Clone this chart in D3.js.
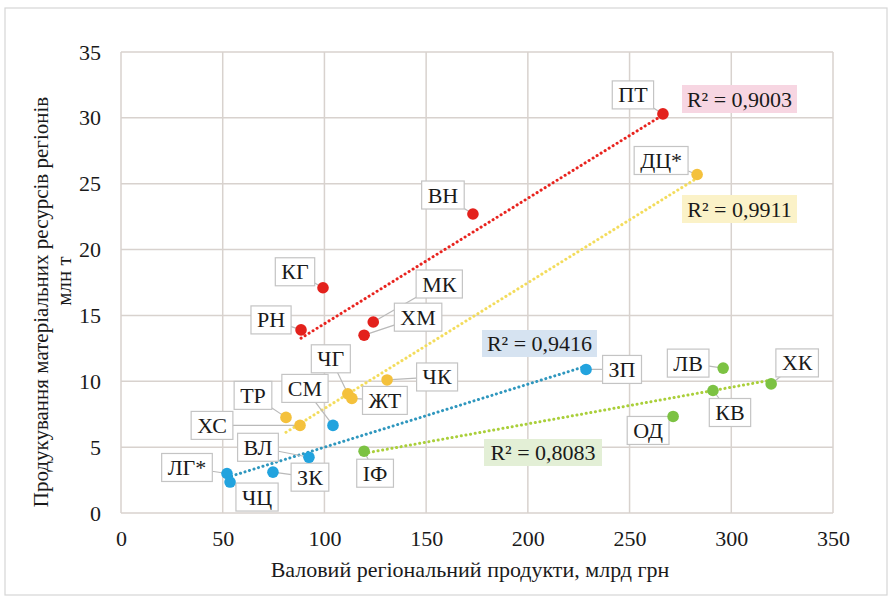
<!DOCTYPE html>
<html>
<head>
<meta charset="utf-8">
<script src="https://cdn.jsdelivr.net/npm/d3@7"></script>
<style>
  body { margin: 0; background: #fff; }
</style>
</head>
<body>
<div id="chart"></div>
<script>
// region codes, GRP (bn UAH) and material resource output (mln t), per group
const redNames = ["РН", "КГ", "ХМ", "МК", "ВН", "ПТ"];
const redX = [88.5, 99.3, 119.5, 124, 173, 266.4];
const redY = [13.9, 17.1, 13.5, 14.5, 22.7, 30.3];

const yellowNames = ["ТР", "ХС", "ЧГ", "ЖТ", "ЧК", "ДЦ*"];
const yellowX = [81.1, 88, 111.5, 113.5, 130.8, 283.2];
const yellowY = [7.26, 6.65, 9.05, 8.7, 10.1, 25.7];

const blueNames = ["ЛГ*", "ЧЦ", "ЗК", "ВЛ", "СМ", "ЗП"];
const blueX = [52.1, 53.6, 74.7, 92.4, 104.2, 228.6];
const blueY = [3.0, 2.35, 3.1, 4.23, 6.65, 10.9];

const greenNames = ["ІФ", "ОД", "КВ", "ЛВ", "ХК"];
const greenX = [119.5, 271.4, 291, 296, 319.6];
const greenY = [4.69, 7.33, 9.3, 11.0, 9.8];

const r2Labels = ["R² = 0,9003", "R² = 0,9911", "R² = 0,9416", "R² = 0,8083"];

const xTicks = [0, 50, 100, 150, 200, 250, 300, 350];
const yTicks = [0, 5, 10, 15, 20, 25, 30, 35];

const width = 890, height = 598;
const margin = {top: 52, right: 57, bottom: 85, left: 121};
const FONT = "'Liberation Serif'";

const svg = d3.select("#chart").append("svg")
    .attr("width", width)
    .attr("height", height);

// outer frame
svg.append("rect")
    .attr("x", 5).attr("y", 8)
    .attr("width", 882).attr("height", 587)
    .attr("fill", "#fff")
    .attr("stroke", "#d6d6d6")
    .attr("stroke-width", 1.2);

const x = d3.scaleLinear().domain([0, 350]).range([margin.left, width - margin.right]);
const y = d3.scaleLinear().domain([0, 35]).range([height - margin.bottom, margin.top]);

const gridColor = "#d8d2ce";

// grid
svg.append("g")
    .selectAll("line")
    .data(yTicks)
  .enter().append("line")
    .attr("x1", x(0)).attr("x2", x(350))
    .attr("y1", d => y(d)).attr("y2", d => y(d))
    .attr("stroke", gridColor).attr("stroke-width", 1.5);

svg.append("g")
    .selectAll("line")
    .data(xTicks)
  .enter().append("line")
    .attr("y1", y(0)).attr("y2", y(35))
    .attr("x1", d => x(d)).attr("x2", d => x(d))
    .attr("stroke", gridColor).attr("stroke-width", 1.5);

// axes
const xAxis = svg.append("g")
    .attr("transform", "translate(0," + y(0) + ")")
    .call(d3.axisBottom(x).tickValues(xTicks).tickSize(0).tickPadding(17));
const yAxis = svg.append("g")
    .attr("transform", "translate(" + x(0) + ",0)")
    .call(d3.axisLeft(y).tickValues(yTicks).tickSize(0).tickPadding(20));
[xAxis, yAxis].forEach(function(a) {
  a.attr("font-family", null).attr("font-size", null);
  a.select(".domain").remove();
  a.selectAll("text")
      .style("font-family", FONT)
      .style("font-size", "22px")
      .attr("fill", "#1a1a1a");
});

function addText(parent, txt, size) {
  return parent.append("text")
      .style("font-family", FONT)
      .style("font-size", (size || 22) + "px")
      .attr("fill", "#1a1a1a")
      .text(txt);
}

// axis titles
addText(svg, "Валовий регіональний продукти, млрд грн", 22)
    .attr("x", 470).attr("y", 577)
    .attr("text-anchor", "middle");

addText(svg, "Продукування матеріальних ресурсів регіонів", 21)
    .attr("transform", "translate(48,302) rotate(-90)")
    .attr("text-anchor", "middle");
addText(svg, "млн т", 21)
    .attr("transform", "translate(71,281) rotate(-90)")
    .attr("text-anchor", "middle");

function makeSeries(names, xs, ys) {
  return names.map(function(n, i) { return {name: n, x: xs[i], y: ys[i]}; });
}

const groups = [
  {pts: makeSeries(redNames, redX, redY), color: "#e3211c", trend: "#e8231e", r2: r2Labels[0], r2bg: "#f7d6e2",
   r2box: [682, 85, 115, 28]},
  {pts: makeSeries(yellowNames, yellowX, yellowY), color: "#f4c13c", trend: "#f3dc5c", r2: r2Labels[1], r2bg: "#fbf2c8",
   r2box: [682, 195, 115, 28]},
  {pts: makeSeries(blueNames, blueX, blueY), color: "#22a3de", trend: "#2f97be", r2: r2Labels[2], r2bg: "#d6e3f1",
   r2box: [482, 330, 115, 27]},
  {pts: makeSeries(greenNames, greenX, greenY), color: "#7cc243", trend: "#aacf3a", r2: r2Labels[3], r2bg: "#e3efd6",
   r2box: [484, 439, 118, 27]}
];

// label offsets (px) from each point
const labelOffset = {
  "ПТ": [-30, -19], "ВН": [-30, -19], "КГ": [-28, -16], "РН": [-30, -10],
  "МК": [66, -38], "ХМ": [54, -18],
  "ЧГ": [-17, -35], "ЖТ": [33, 2], "ЧК": [50, -3], "ТР": [-33, -22],
  "ХС": [-88, 0], "ДЦ*": [-36, -14],
  "СМ": [-28, -37], "ВЛ": [-51, -10], "ЗК": [37, 5], "ЛГ*": [-40, -6],
  "ЧЦ": [27, 15], "ЗП": [36, 0],
  "ІФ": [11, 22], "ЛВ": [-35, -5], "ХК": [26, -21], "КВ": [17, 22], "ОД": [-25, 14]
};

// least squares trend
function fit(pts) {
  const mx = d3.mean(pts, d => d.x), my = d3.mean(pts, d => d.y);
  let sxy = 0, sxx = 0;
  pts.forEach(function(d) { sxy += (d.x - mx) * (d.y - my); sxx += (d.x - mx) * (d.x - mx); });
  const b = sxy / sxx;
  return function(v) { return my + b * (v - mx); };
}

const trendLayer = svg.append("g");
const leaderLayer = svg.append("g");
const labelLayer = svg.append("g");
const pointLayer = svg.append("g");

groups.forEach(function(g) {
  const f = fit(g.pts);
  const ext = d3.extent(g.pts, d => d.x);
  trendLayer.append("line")
      .attr("x1", x(ext[0])).attr("y1", y(f(ext[0])))
      .attr("x2", x(ext[1])).attr("y2", y(f(ext[1])))
      .attr("stroke", g.trend)
      .attr("stroke-width", 3)
      .attr("stroke-linecap", "round")
      .attr("stroke-dasharray", "0.1 4.6");

  // R² boxes
  const b = g.r2box;
  svg.append("rect")
      .attr("x", b[0]).attr("y", b[1]).attr("width", b[2]).attr("height", b[3])
      .attr("fill", g.r2bg);
  addText(svg, g.r2)
      .attr("x", b[0] + b[2] / 2).attr("y", b[1] + b[3] / 2 + 7.5)
      .attr("text-anchor", "middle");

  g.pts.forEach(function(d) {
    const px = x(d.x), py = y(d.y);
    const off = labelOffset[d.name];
    const lx = px + off[0], ly = py + off[1];

    leaderLayer.append("line")
        .attr("x1", px).attr("y1", py).attr("x2", lx).attr("y2", ly)
        .attr("stroke", "#b9b9b9").attr("stroke-width", 1.2);

    const t = addText(labelLayer, d.name)
        .attr("x", lx).attr("y", ly + 7.5)
        .attr("text-anchor", "middle");
    const w = t.node().getComputedTextLength();
    labelLayer.insert("rect", function() { return t.node(); })
        .attr("x", lx - w / 2 - 6).attr("y", ly - 14)
        .attr("width", w + 12).attr("height", 28)
        .attr("fill", "#fff")
        .attr("stroke", "#c4c4c4").attr("stroke-width", 1.2);

    pointLayer.append("circle")
        .attr("cx", px).attr("cy", py).attr("r", 5.8)
        .attr("fill", g.color);
  });
});
</script>
</body>
</html>
